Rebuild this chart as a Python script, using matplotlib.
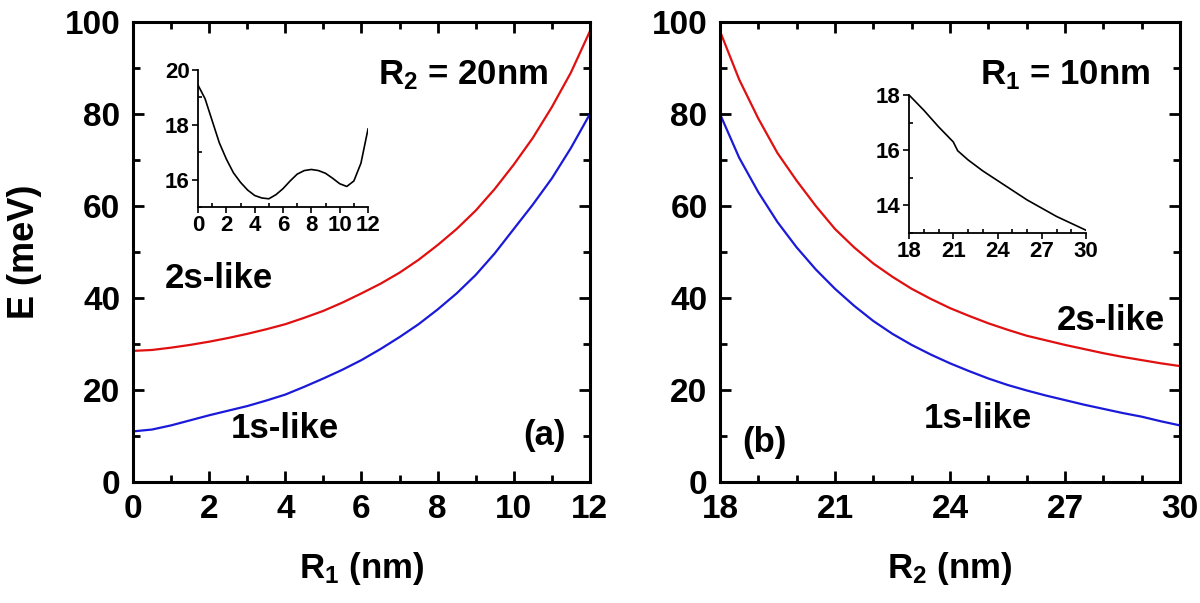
import matplotlib
matplotlib.use("Agg")
import matplotlib.pyplot as plt
from matplotlib.ticker import MultipleLocator

plt.rcParams['font.family'] = ['Liberation Sans', 'DejaVu Sans']
plt.rcParams['font.weight'] = 'bold'
plt.rcParams['axes.labelweight'] = 'bold'
plt.rcParams['mathtext.fontset'] = 'custom'
plt.rcParams['mathtext.rm'] = 'Liberation Sans:bold'
plt.rcParams['mathtext.bf'] = 'Liberation Sans:bold'
plt.rcParams['mathtext.default'] = 'bf'

# panel (a): energies vs R1 (R2 = 20 nm)
R1 = [0, 0.5, 1, 1.5, 2, 2.5, 3, 3.5, 4, 4.5, 5, 5.5, 6, 6.5, 7, 7.5, 8,
      8.5, 9, 9.5, 10, 10.5, 11, 11.5, 12]
E2s_a = [28.5, 28.7, 29.2, 29.8, 30.5, 31.3, 32.2, 33.2, 34.3, 35.7, 37.2,
         39, 41, 43.1, 45.5, 48.3, 51.5, 55, 59, 63.7, 69, 74.8, 81.5, 89, 98]
E1s_a = [11, 11.4, 12.3, 13.4, 14.5, 15.5, 16.5, 17.7, 19, 20.7, 22.5,
         24.4, 26.5, 28.9, 31.5, 34.3, 37.5, 41, 45, 49.7, 55, 60.3, 66, 72.6, 80]

# inset (a)
R1_in = [0, 0.5, 1, 1.5, 2, 2.5, 3, 3.5, 4, 4.5, 5, 5.5, 6, 6.5, 7, 7.5, 8,
         8.5, 9, 9.5, 10, 10.5, 11, 11.5, 12]
E_in_a = [19.45, 18.95, 18.15, 17.35, 16.75, 16.25, 15.9, 15.62, 15.42, 15.33,
          15.3, 15.45, 15.67, 15.95, 16.2, 16.33, 16.37, 16.33, 16.23, 16.05,
          15.85, 15.75, 15.95, 16.6, 17.85]

# panel (b): energies vs R2 (R1 = 10 nm)
R2 = [18, 18.5, 19, 19.5, 20, 20.5, 21, 21.5, 22, 22.5, 23, 23.5, 24, 24.5,
      25, 25.5, 26, 26.5, 27, 27.5, 28, 28.5, 29, 29.5, 30]
E2s_b = [98, 87.5, 79, 71.5, 65.5, 60, 55, 51, 47.5, 44.6, 42, 39.8, 37.8,
         36.1, 34.5, 33.1, 31.8, 30.8, 29.8, 28.9, 28, 27.2, 26.5, 25.8, 25.2]
E1s_b = [80, 70.5, 63, 56.5, 51, 46.2, 42, 38.3, 35, 32.2, 29.8, 27.7, 25.8,
         24.1, 22.5, 21.1, 19.9, 18.8, 17.8, 16.8, 15.9, 15, 14.2, 13.2, 12.3]

# inset (b)
R2_in = [18, 19, 20, 21, 21.3, 22, 23, 24, 25, 26, 27, 28, 29, 30]
E_in_b = [18.0, 17.45, 16.85, 16.3, 15.98, 15.65, 15.25, 14.9, 14.55, 14.2,
          13.9, 13.6, 13.35, 13.1]

fig = plt.figure(figsize=(12, 6.03), dpi=100)
axa = fig.add_axes([0.1108, 0.2007, 0.3808, 0.7628])
axb = fig.add_axes([0.6000, 0.2007, 0.3833, 0.7628])


def style_main(ax, xmaj):
    for s in ax.spines.values():
        s.set_linewidth(2.2)
    ax.set_ylim(0, 100)
    ax.yaxis.set_major_locator(MultipleLocator(20))
    ax.yaxis.set_minor_locator(MultipleLocator(10))
    ax.xaxis.set_major_locator(MultipleLocator(xmaj))
    ax.xaxis.set_minor_locator(MultipleLocator(1))
    ax.tick_params(which='both', direction='in', top=True, right=True,
                   labelsize=24, pad=9)
    ax.tick_params(which='major', length=8, width=2)
    ax.tick_params(which='minor', length=5, width=2)


axa.plot(R1, E2s_a, color='#e01010', lw=1.6)
axa.plot(R1, E1s_a, color='#1a1ad8', lw=1.6)
axa.set_xlim(0, 12)
style_main(axa, 2)
axa.set_xlabel('R$_1$ (nm)', fontsize=25, labelpad=18)
axa.set_ylabel('E (meV)', fontsize=26, labelpad=16)
axa.text(8.67, 88.5, 'R$_2$ = 20nm', fontsize=25, ha='center', va='center')
axa.text(2.26, 44.3, '2s-like', fontsize=25, ha='center', va='center')
axa.text(4.0, 11.7, '1s-like', fontsize=25, ha='center', va='center')
axa.text(10.8, 10.2, '(a)', fontsize=25, ha='center', va='center')

axb.plot(R2, E2s_b, color='#e01010', lw=1.6)
axb.plot(R2, E1s_b, color='#1a1ad8', lw=1.6)
axb.set_xlim(18, 30)
style_main(axb, 3)
axb.set_xlabel('R$_2$ (nm)', fontsize=25, labelpad=18)
axb.text(27.0, 88.5, 'R$_1$ = 10nm', fontsize=25, ha='center', va='center')
axb.text(28.2, 35.2, '2s-like', fontsize=25, ha='center', va='center')
axb.text(24.73, 13.9, '1s-like', fontsize=25, ha='center', va='center')
axb.text(19.17, 8.5, '(b)', fontsize=25, ha='center', va='center')


def style_inset(ax, xmaj, ymaj):
    ax.spines['top'].set_visible(False)
    ax.spines['right'].set_visible(False)
    for s in ('left', 'bottom'):
        ax.spines[s].set_linewidth(1.3)
    ax.xaxis.set_major_locator(MultipleLocator(xmaj))
    ax.xaxis.set_minor_locator(MultipleLocator(1))
    ax.yaxis.set_major_locator(MultipleLocator(ymaj))
    ax.yaxis.set_minor_locator(MultipleLocator(1))
    ax.tick_params(which='major', direction='out', length=4, width=1.2,
                   labelsize=16, pad=2)
    ax.tick_params(which='minor', direction='in', length=3, width=1.2)
    ax.patch.set_alpha(0)


ina = fig.add_axes([0.165, 0.6567, 0.1417, 0.2272])
ina.plot(R1_in, E_in_a, color='black', lw=1.2)
ina.set_xlim(0, 12)
ina.set_ylim(15, 20)
style_inset(ina, 2, 2)
ina.set_yticks([16, 18, 20])

inb = fig.add_axes([0.7575, 0.6136, 0.1475, 0.2289])
inb.plot(R2_in, E_in_b, color='black', lw=1.2)
inb.set_xlim(18, 30)
inb.set_ylim(13, 18)
style_inset(inb, 3, 2)
inb.set_yticks([14, 16, 18])

fig.savefig('out.png', dpi=100)
